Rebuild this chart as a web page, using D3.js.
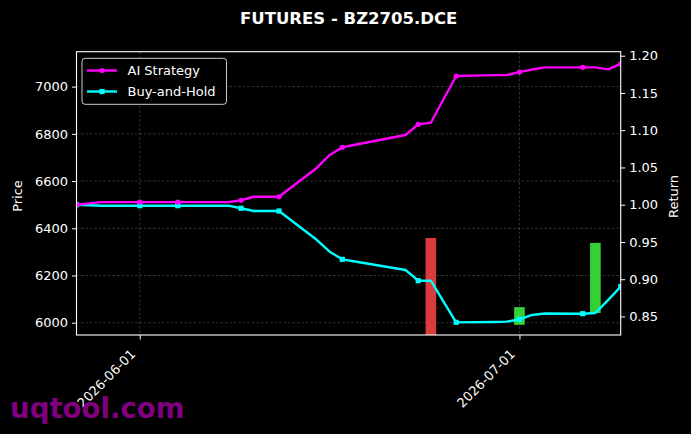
<!DOCTYPE html>
<html><head><meta charset="utf-8">
<script src="https://cdn.jsdelivr.net/npm/d3@7/dist/d3.min.js"></script>
<style>body{margin:0;background:#000}svg{display:block}text{font-family:"DejaVu Sans",sans-serif}</style>
</head><body><svg id="c" width="691" height="434"></svg>
<script>
const dates = ["2026-05-27","2026-05-28","2026-05-29","2026-06-01","2026-06-02","2026-06-03","2026-06-04","2026-06-05","2026-06-08","2026-06-09","2026-06-10","2026-06-11","2026-06-12","2026-06-15","2026-06-16","2026-06-17","2026-06-18","2026-06-22","2026-06-23","2026-06-24","2026-06-25","2026-06-26","2026-06-29","2026-06-30","2026-07-01","2026-07-02","2026-07-03","2026-07-06","2026-07-07","2026-07-08","2026-07-09"];
const aiStrategy = [1.000,1.0018,1.0035,1.0035,1.0035,1.0035,1.0035,1.0035,1.0035,1.006,1.0107,1.0107,1.0107,1.0497,1.0667,1.077,1.0805,1.0936,1.1079,1.110,1.1415,1.1728,1.174,1.174,1.178,1.1815,1.1844,1.1844,1.1844,1.1817,1.189];
const buyHold = [1.000,0.9993,0.9987,0.9987,0.9987,0.9987,0.9987,0.9987,0.9987,0.9952,0.9915,0.9915,0.9915,0.9526,0.9369,0.9267,0.9238,0.9123,0.898,0.898,0.870,0.8421,0.8425,0.843,0.8462,0.852,0.854,0.8537,0.8546,0.872,0.890];
const barDates = ["2026-06-24","2026-07-01","2026-07-07"];
const barLow = [5900,5991,6041];
const barHigh = [6359,6066,6338];
const barType = ["sell","buy","buy"];
const priceTicks = [6000,6200,6400,6600,6800,7000];
const returnTicks = [0.85,0.90,0.95,1.00,1.05,1.10,1.15,1.20];
const xTicks = ["2026-06-01","2026-07-01"];

const parse = d3.utcParse("%Y-%m-%d");
const svg = d3.select("#c");
svg.append("rect").attr("width",691).attr("height",434).attr("fill","#000");
const L=76.5,R=620.7,T=51.7,B=335;
const x = d3.scaleUtc().domain([parse(dates[0]),parse(dates[dates.length-1])]).range([L,R]);
const yP = d3.scaleLinear().domain([5948,7148]).range([B,T]);
const yR = d3.scaleLinear().domain([0.8251,1.2054]).range([B,T]);

svg.append("defs").append("clipPath").attr("id","clip").append("rect").attr("x",L).attr("y",T).attr("width",R-L).attr("height",B-T);

// grid
const g = svg.append("g");
g.selectAll(".gy").data(priceTicks).join("line").attr("x1",L).attr("x2",R).attr("y1",d=>yP(d)).attr("y2",d=>yP(d))
 .attr("stroke","#555").attr("stroke-width",0.6).attr("stroke-dasharray","2.5,2");
g.selectAll(".gx").data(xTicks).join("line").attr("y1",T).attr("y2",B).attr("x1",d=>x(parse(d))).attr("x2",d=>x(parse(d)))
 .attr("stroke","#555").attr("stroke-width",0.6).attr("stroke-dasharray","2.5,2");

// bars
const bw = x(parse("2026-06-02"))-x(parse("2026-06-01"));
const pg = svg.append("g").attr("clip-path","url(#clip)");
pg.selectAll(".bar").data(barDates).join("rect")
 .attr("x",(d,i)=>x(parse(d))-bw*0.42).attr("width",bw*0.84)
 .attr("y",(d,i)=>yP(barHigh[i])).attr("height",(d,i)=>yP(barLow[i])-yP(barHigh[i]))
 .attr("fill",(d,i)=>barType[i]==="sell"?"#dc3b3b":"#33d133");

// lines
const line = d3.line().x((d,i)=>x(parse(dates[i]))).y(d=>yR(d));
pg.append("path").datum(buyHold).attr("d",line).attr("fill","none").attr("stroke","#00ffff").attr("stroke-width",2.4).attr("stroke-linejoin","round");
pg.selectAll(".bm").data(buyHold.map((v,i)=>[i,v]).filter(d=>d[0]%3===0)).join("rect")
 .attr("x",d=>x(parse(dates[d[0]]))-2.6).attr("y",d=>yR(d[1])-2.6).attr("width",5.2).attr("height",5.2).attr("fill","#00ffff");
pg.append("path").datum(aiStrategy).attr("d",line).attr("fill","none").attr("stroke","#ff00ff").attr("stroke-width",2.4).attr("stroke-linejoin","round");
pg.selectAll(".am").data(aiStrategy.map((v,i)=>[i,v]).filter(d=>d[0]%3===0)).join("circle")
 .attr("cx",d=>x(parse(dates[d[0]]))).attr("cy",d=>yR(d[1])).attr("r",2.6).attr("fill","#ff00ff");

// axes
const fmtP = d3.format("d");
const axL = svg.append("g").attr("transform",`translate(${L},0)`).call(d3.axisLeft(yP).tickValues(priceTicks).tickFormat(fmtP).tickSize(4.5).tickPadding(4));
const axR = svg.append("g").attr("transform",`translate(${R},0)`).call(d3.axisRight(yR).tickValues(returnTicks).tickFormat(d3.format(".2f")).tickSize(4.5).tickPadding(4));
const axB = svg.append("g").attr("transform",`translate(0,${B})`).call(d3.axisBottom(x).tickValues(xTicks.map(parse)).tickFormat(d3.utcFormat("%Y-%m-%d")).tickSize(4.5));
[axL,axR,axB].forEach(a=>{a.select(".domain").remove();a.selectAll("line").attr("stroke","#fff");a.selectAll("text").attr("fill","#fff").style("font-size","13px").style("font-family","DejaVu Sans");});
axB.selectAll("text").attr("text-anchor","end").attr("x",0).attr("y",0).attr("dy","0").attr("transform","translate(-4,20) rotate(-45)");
svg.append("rect").attr("x",L).attr("y",T).attr("width",R-L).attr("height",B-T).attr("fill","none").attr("stroke","#fff").attr("stroke-width",1.1);

// labels
svg.append("text").attr("x",348.7).attr("y",24).attr("text-anchor","middle").attr("fill","#fff").style("font-size","16.5px").style("font-weight","bold").text("FUTURES - BZ2705.DCE");
svg.append("text").attr("transform","translate(22,196) rotate(-90)").attr("text-anchor","middle").attr("fill","#fff").style("font-size","13px").text("Price");
svg.append("text").attr("transform","translate(678,196.5) rotate(-90)").attr("text-anchor","middle").attr("fill","#fff").style("font-size","13px").text("Return");

// legend
const lg = svg.append("g");
lg.append("rect").attr("x",82).attr("y",58.3).attr("width",144.5).attr("height",46).attr("rx",3).attr("fill","#000").attr("stroke","#ccc").attr("stroke-width",1);
const items=[["AI Strategy","#ff00ff","c"],["Buy-and-Hold","#00ffff","s"]];
items.forEach((it,i)=>{
  const yy = 70.5 + i*21;
  lg.append("line").attr("x1",87).attr("x2",117).attr("y1",yy).attr("y2",yy).attr("stroke",it[1]).attr("stroke-width",2.4);
  if(it[2]==="c") lg.append("circle").attr("cx",102).attr("cy",yy).attr("r",2.6).attr("fill",it[1]);
  else lg.append("rect").attr("x",99.4).attr("y",yy-2.6).attr("width",5.2).attr("height",5.2).attr("fill",it[1]);
  lg.append("text").attr("x",127.5).attr("y",yy+4.7).attr("fill","#fff").style("font-size","13px").text(it[0]);
});

// watermark
svg.append("text").attr("x",10).attr("y",418).attr("fill","#800080").style("font-size","27.6px").style("font-weight","bold").text("uqtool.com");
</script></body></html>
